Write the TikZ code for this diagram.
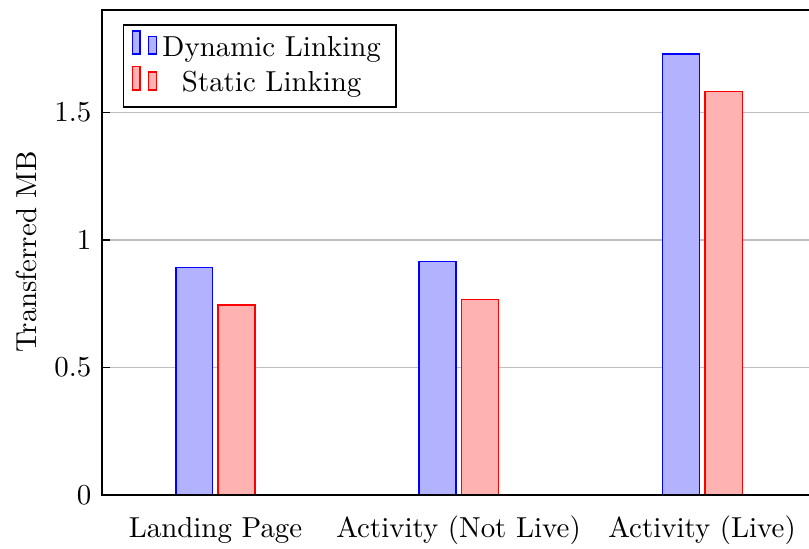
\documentclass[tikz,border=0pt]{standalone}
\usetikzlibrary{positioning}
\tikzset{
  dynbar/.style={draw=blue, fill=blue!30, line width=0.4pt},
  statbar/.style={draw=red, fill=red!30, line width=0.4pt},
  gridline/.style={draw=black!25, line width=0.4pt},
  axisline/.style={draw=black, line width=0.4pt},
  ticklab/.style={anchor=east, inner sep=0pt},
  catlab/.style={anchor=base, inner sep=0pt},
  legtext/.style={anchor=base, inner sep=0pt}
}
\begin{document}
\begin{tikzpicture}[x=0.346pt, y=-0.346pt]
  \useasboundingbox (0,0) rectangle (809,548);
  % horizontal grid lines at 0.5, 1, 1.5
  \foreach \yy in {367.5,240,112.5}
    \draw[gridline] (102,\yy) -- (809,\yy);
  % tick marks on the value axis
  \foreach \yy in {495,367.5,240,112.5}
    \draw[axisline] (102,\yy) -- (110,\yy);
  % bars
  \draw[dynbar]  (176,495) rectangle (212.5,267.3);
  \draw[statbar] (218,495) rectangle (255,305);
  \draw[dynbar]  (419,495) rectangle (456,261.7);
  \draw[statbar] (461.7,495) rectangle (498.7,299.3);
  \draw[dynbar]  (662.7,495) rectangle (699.7,54);
  \draw[statbar] (705,495) rectangle (742.5,91.7);
  % axis frame (left, top, bottom)
  \draw[axisline] (809,10) -- (102,10) -- (102,495) -- (809,495);
  % tick labels
  \node[ticklab] (t0)  at (92,495)   {$0$};
  \node[ticklab] (t05) at (92,367.5) {$0.5$};
  \node[ticklab] (t1)  at (92,240)   {$1$};
  \node[ticklab] (t15) at (92,112.5) {$1.5$};
  % category labels
  \node[catlab] (c1) at (215.5,537) {Landing Page};
  \node[catlab] (c2) at (458.5,537) {Activity (Not Live)};
  \node[catlab] (c3) at (702,537)   {Activity (Live)};
  % value axis label
  \node[rotate=90] (ylab) at (26,252) {Transferred MB};
  % legend
  \draw[fill=white, axisline] (123.3,25) rectangle (396,107);
  \draw[dynbar]  (132.3,54) rectangle (140,31);
  \draw[dynbar]  (148.3,54) rectangle (156.7,36.7);
  \draw[statbar] (132.3,90) rectangle (140,66.7);
  \draw[statbar] (148.3,90) rectangle (156.7,72);
  \node[legtext] (l1) at (271.7,56.7) {Dynamic Linking};
  \node[legtext] (l2) at (271.7,91.2) {Static Linking};
\end{tikzpicture}
\end{document}
